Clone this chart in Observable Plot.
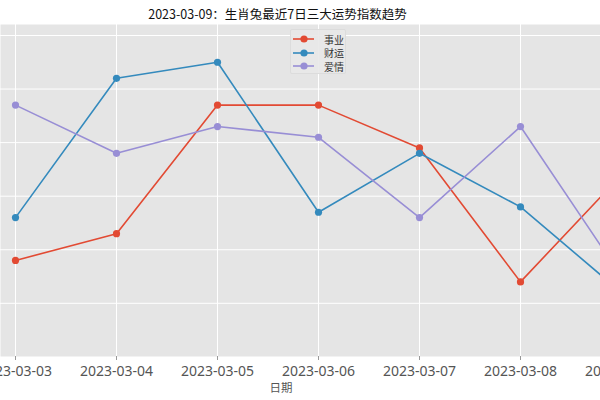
<!DOCTYPE html>
<html><head><meta charset="utf-8">
<script src="https://cdn.jsdelivr.net/npm/d3@7"></script>
<script src="https://cdn.jsdelivr.net/npm/@observablehq/plot@0.6"></script>
<style>
html,body{margin:0;padding:0;background:#fff;overflow:hidden;width:600px;height:400px;}
body{font-family:"Noto Sans CJK SC","DejaVu Sans",sans-serif;position:relative;}
#title{width:555px;height:24px;line-height:28px;text-align:center;font-size:12.5px;color:#111;white-space:nowrap;}
#chart svg{display:block;overflow:visible;}
#xlabel{position:absolute;top:378px;left:0;width:562px;text-align:center;font-size:11.5px;color:#555;line-height:18px;}
#legend{position:absolute;top:29px;left:290px;width:56px;height:45px;background:rgba(232,232,232,0.9);border:1px solid #dcdcdc;border-radius:2px;box-sizing:border-box;}
.lg-row{position:absolute;left:0;height:14px;display:flex;align-items:center;font-size:10px;color:#333;}
.lg-row svg{display:block;margin-left:1px;margin-right:8px;}
</style>
</head><body>
<div id="title"></div>
<div id="chart"></div>
<div id="xlabel"></div>
<div id="legend"></div>
<script>
const titleText = "2023-03-09：生肖兔最近7日三大运势指数趋势";
const xLabel = "日期";
const dates = ["2023-03-03","2023-03-04","2023-03-05","2023-03-06","2023-03-07","2023-03-08","2023-03-09"];
const seriesNames = ["事业","财运","爱情"];
const career = [48,53,77,77,69,44,64];
const wealth = [56,82,85,57,68,58,42];
const love = [77,68,73,71,56,73,45];
const colors = ["#E24A33","#348ABD","#988ED5"];
const yTicks = [40,50,60,70,80,90];

const seriesValues = [career, wealth, love];
const rows = [];
seriesNames.forEach((s, i) => dates.forEach((d, j) => rows.push({series: s, date: d, value: seriesValues[i][j]})));

document.getElementById("title").textContent = titleText;
document.getElementById("xlabel").textContent = xLabel;

const lineMarks = [];
seriesNames.forEach((s, i) => {
  const data = rows.filter(r => r.series === s);
  lineMarks.push(Plot.line(data, {x: "date", y: "value", stroke: colors[i], strokeWidth: 1.6}));
  lineMarks.push(Plot.dot(data, {x: "date", y: "value", fill: colors[i], r: 3.6}));
});

const chart = Plot.plot({
  width: 600,
  height: 354,
  marginLeft: 0,
  marginRight: 0,
  marginTop: 0,
  marginBottom: 22,
  style: {background: "transparent", overflow: "visible"},
  x: {type: "point", domain: dates, range: [13.3, 622.2], padding: 0, axis: null},
  y: {domain: [30.07, 92.05], axis: null},
  marks: [
    Plot.frame({fill: "#E5E5E5", stroke: null}),
    Plot.gridY(yTicks, {stroke: "white", strokeOpacity: 1, strokeWidth: 1}),
    Plot.gridX(dates, {stroke: "white", strokeOpacity: 1, strokeWidth: 1}),
    ...lineMarks,
    Plot.axisX(dates, {label: null, tickSize: 4, tickPadding: 6, fontSize: 14, color: "#555", stroke: "#999"})
  ]
});
document.getElementById("chart").appendChild(chart);

const legend = document.getElementById("legend");
seriesNames.forEach((s, i) => {
  const row = document.createElement("div");
  row.className = "lg-row";
  row.style.top = (2 + i * 13.5) + "px";
  row.innerHTML = `<svg width="24" height="10"><line x1="1" x2="22" y1="5" y2="5" stroke="${colors[i]}" stroke-width="1.6"/><circle cx="12" cy="5" r="3.6" fill="${colors[i]}"/></svg><span>${s}</span>`;
  legend.appendChild(row);
});
</script>
</body></html>
